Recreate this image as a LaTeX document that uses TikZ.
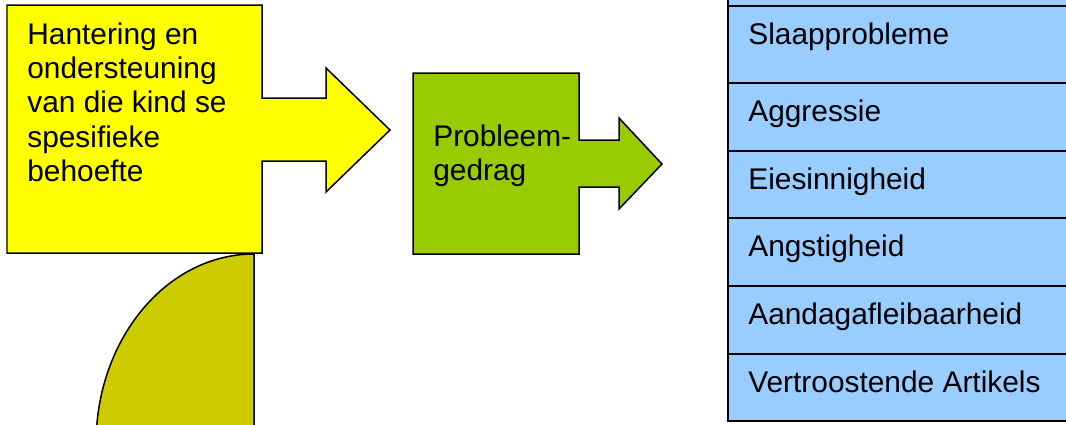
\documentclass[tikz,border=0pt]{standalone}
\usepackage{fontspec}
\setmainfont{Liberation Sans}
\usetikzlibrary{positioning}
\definecolor{callyellow}{HTML}{FFFF00}
\definecolor{callgreen}{HTML}{99CC00}
\definecolor{quarterolive}{HTML}{CCCC00}
\definecolor{listblue}{HTML}{99CCFF}
\tikzset{
  shapeline/.style={draw=black,line width=0.03cm,line join=miter},
  cellline/.style={draw=black,line width=0.04cm,fill=listblue},
  txt/.style={anchor=base west,inner sep=0pt,font=\fontsize{17}{19.6}\selectfont},
}
\newcommand{\lines}[1]{\begin{tabular}[t]{@{}l@{}}#1\end{tabular}}

\begin{document}
\begin{tikzpicture}[x=0.02cm,y=-0.02cm]
  \useasboundingbox (0,0) rectangle (1066,424);
  \clip (0,0) rectangle (1066,424);
  % quarter ellipse under the yellow box
  \draw[shapeline,fill=quarterolive] (254,254) arc[start angle=90,end angle=180,x radius=3.16cm,y radius=3.8cm] -- (254,444) -- cycle;
  % yellow callout
  \draw[shapeline,fill=callyellow] (7,5) -- (262,5) -- (262,98) -- (326,98) -- (326,68) -- (390,130)
    -- (326,192) -- (326,161) -- (262,161) -- (262,253) -- (7,253) -- cycle;
  \node[txt] (care) at (27,44) {\lines{Hantering en\\ondersteuning\\van die kind se\\spesifieke\\behoefte}};
  % green callout
  \draw[shapeline,fill=callgreen] (413,73) -- (579,73) -- (579,140) -- (619,140) -- (619,118) -- (662,164)
    -- (619,209) -- (619,187) -- (579,187) -- (579,254) -- (413,254) -- cycle;
  \node[txt] (problem) at (433,146) {\lines{Probleem-\\gedrag}};
  % list of behaviours
  \draw[cellline] (728,-40) rectangle (1090,6);
  \foreach \top/\bot/\word [count=\i] in {6/83/Slaapprobleme, 83/151/Aggressie, 151/218/Eiesinnigheid,
      218/286/Angstigheid, 286/354/Aandagafleibaarheid, 354/421/Vertroostende Artikels} {
    \draw[cellline] (728,\top) rectangle (1090,\bot);
    \node[txt] (row\i) at (748,\top+38) {\word};
  }
\end{tikzpicture}
\end{document}
